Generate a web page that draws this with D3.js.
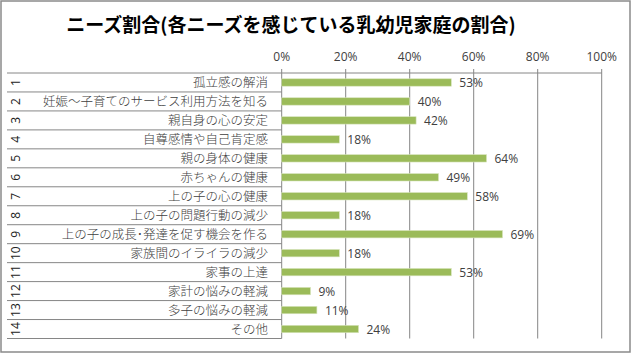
<!DOCTYPE html>
<html>
<head>
<meta charset="utf-8">
<script src="https://cdn.jsdelivr.net/npm/d3@7"></script>
<style>
  body { margin: 0; background: #fff; }
  svg { display: block; }
  .title { font-family: "Noto Sans CJK JP", sans-serif; font-weight: bold; font-size: 19px; fill: #000; }
  .cat { font-family: "Noto Sans CJK JP", sans-serif; font-weight: 300; font-size: 12.5px; fill: #404040; }
  .num { font-family: "Open Sans", sans-serif; font-size: 12px; fill: #222; }
  .tick-label, .val { font-family: "Open Sans", sans-serif; font-size: 12px; fill: #404040; }
</style>
</head>
<body>
<div class="vis"></div>
<script>
const titleText = "ニーズ割合(各ニーズを感じている乳幼児家庭の割合)";
const rowNumbers = ["1","2","3","4","5","6","7","8","9","10","11","12","13","14"];
const categories = [
    "孤立感の解消",
    "妊娠～子育てのサービス利用方法を知る",
    "親自身の心の安定",
    "自尊感情や自己肯定感",
    "親の身体の健康",
    "赤ちゃんの健康",
    "上の子の心の健康",
    "上の子の問題行動の減少",
    "上の子の成長･発達を促す機会を作る",
    "家族間のイライラの減少",
    "家事の上達",
    "家計の悩みの軽減",
    "多子の悩みの軽減",
    "その他"
];
const values = [0.53, 0.40, 0.42, 0.18, 0.64, 0.49, 0.58, 0.18, 0.69, 0.18, 0.53, 0.09, 0.11, 0.24];
const tickValues = [0, 0.2, 0.4, 0.6, 0.8, 1.0];

(function () {
    const svgWidth = 632;
    const svgHeight = 354;

    const svg = d3.select('.vis')
        .append('svg')
            .attr('width', svgWidth)
            .attr('height', svgHeight);

    // outer frame
    svg.append('rect')
        .attr('x', 1).attr('y', 1)
        .attr('width', svgWidth - 3).attr('height', svgHeight - 3)
        .attr('fill', '#fff')
        .attr('stroke', '#8a8a8a')
        .attr('stroke-width', 1.5);

    svg.append('text')
        .attr('class', 'title')
        .attr('x', 291)
        .attr('y', 32)
        .attr('text-anchor', 'middle')
        .text(titleText);

    var plotTop = 73;
    var plotBottom = 338.5;
    var labelLeft = 7;

    var xScale = d3.scaleLinear()
        .domain([0, 1])
        .range([281.7, 601.7]);

    var yScale = d3.scaleBand()
        .domain(d3.range(categories.length))
        .range([plotTop, plotBottom]);

    // vertical gridlines + ticks above
    svg.append('g')
        .selectAll('line')
        .data(tickValues)
        .enter().append('line')
            .attr('x1', d => xScale(d)).attr('x2', d => xScale(d))
            .attr('y1', plotTop - 4).attr('y2', plotBottom)
            .attr('stroke', '#868686')
            .attr('stroke-width', 1);

    svg.append('g')
        .selectAll('text')
        .data(tickValues)
        .enter().append('text')
            .attr('class', 'tick-label')
            .attr('x', d => xScale(d))
            .attr('y', 61)
            .attr('text-anchor', 'middle')
            .text(d => d3.format('.0%')(d));

    // top axis line
    svg.append('line')
        .attr('x1', labelLeft).attr('x2', xScale(1))
        .attr('y1', plotTop).attr('y2', plotTop)
        .attr('stroke', '#868686');

    // row separators in category area
    svg.append('g')
        .selectAll('line')
        .data(d3.range(1, categories.length + 1))
        .enter().append('line')
            .attr('x1', labelLeft).attr('x2', xScale(0))
            .attr('y1', d => yScale(d - 1) + yScale.bandwidth())
            .attr('y2', d => yScale(d - 1) + yScale.bandwidth())
            .attr('stroke', '#868686');

    // numbers rotated
    svg.append('g')
        .selectAll('text')
        .data(rowNumbers)
        .enter().append('text')
            .attr('class', 'num')
            .attr('transform', (d, i) => `translate(19.5, ${yScale(i) + yScale.bandwidth() / 2}) rotate(-90)`)
            .attr('text-anchor', 'middle')
            .text(d => d);

    svg.append('g')
        .selectAll('text')
        .data(categories)
        .enter().append('text')
            .attr('class', 'cat')
            .attr('x', 268)
            .attr('y', (d, i) => yScale(i) + yScale.bandwidth() / 2 + 4.5)
            .attr('text-anchor', 'end')
            .text(d => d);

    var barH = 7.4;
    svg.append('g')
        .selectAll('rect')
        .data(values)
        .enter().append('rect')
            .attr('x', xScale(0))
            .attr('y', (d, i) => yScale(i) + yScale.bandwidth() / 2 - barH / 2)
            .attr('width', d => xScale(d) - xScale(0))
            .attr('height', barH)
            .attr('fill', '#9BBB59')
            .attr('stroke', '#d7e4bd')
            .attr('stroke-width', 0.6);

    svg.append('g')
        .selectAll('text')
        .data(values)
        .enter().append('text')
            .attr('class', 'val')
            .attr('x', d => xScale(d) + 8)
            .attr('y', (d, i) => yScale(i) + yScale.bandwidth() / 2 + 5)
            .text(d => d3.format('.0%')(d));
})();
</script>
</body>
</html>
